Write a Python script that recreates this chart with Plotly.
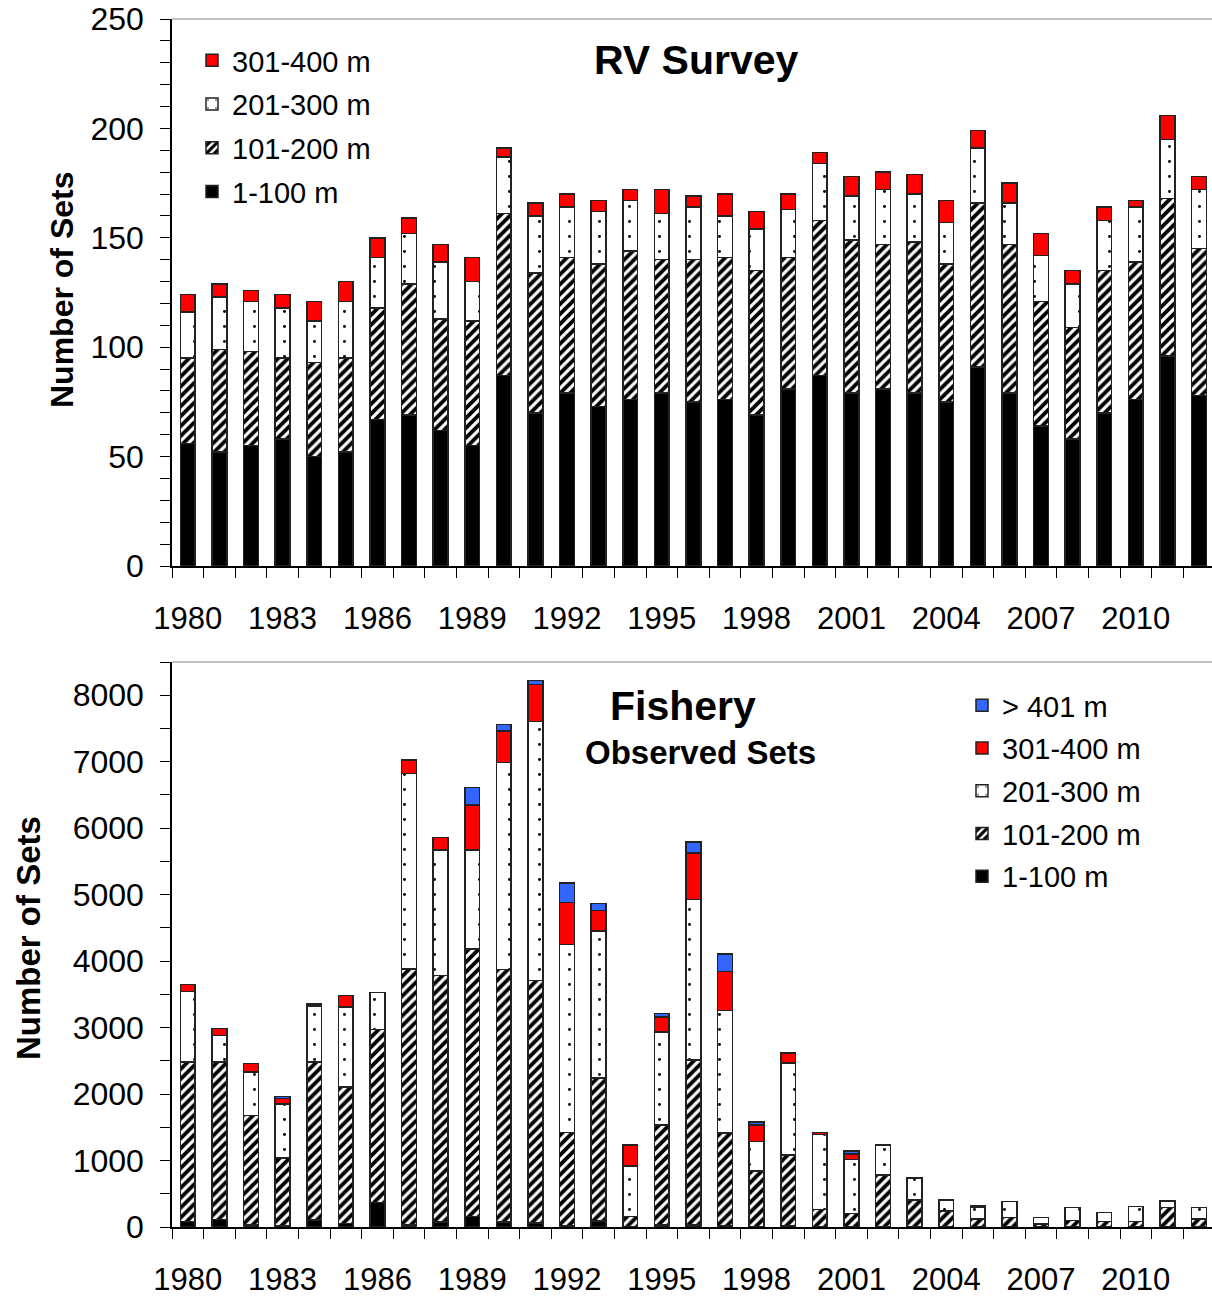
import plotly.graph_objects as go

# ---- data ---------------------------------------------------------------
years = list(range(1980, 2013))
tick_years = list(range(1980, 2011, 3))

# RV Survey: number of sets by depth stratum
rv_1_100 = [56, 52, 55, 58, 50, 52, 67, 69, 62, 55, 87, 70, 79, 73, 76, 79, 75,
            76, 69, 81, 87, 79, 81, 79, 75, 91, 79, 64, 58, 70, 76, 96, 78]
rv_101_200 = [39, 47, 43, 37, 43, 43, 51, 60, 51, 57, 74, 64, 62, 65, 68, 61, 65,
              65, 66, 60, 71, 70, 66, 69, 63, 75, 68, 57, 51, 65, 63, 72, 67]
rv_201_300 = [21, 24, 23, 23, 19, 26, 23, 23, 26, 18, 26, 26, 23, 24, 23, 21, 24,
              19, 19, 22, 26, 20, 25, 22, 19, 25, 19, 21, 20, 23, 25, 27, 27]
rv_301_400 = [8, 6, 5, 6, 9, 9, 9, 7, 8, 11, 4, 6, 6, 5, 5, 11, 5,
              10, 8, 7, 5, 9, 8, 9, 10, 8, 9, 10, 6, 6, 3, 11, 6]

# Fishery observed sets by depth stratum
fo_1_100 = [80, 115, 30, 20, 105, 55, 365, 30, 75, 155, 75, 60, 20, 90, 0, 30, 30,
            20, 10, 20, 0, 0, 0, 0, 0, 0, 0, 0, 0, 0, 0, 0, 0]
fo_101_200 = [2400, 2365, 1650, 1020, 2375, 2050, 2605, 3850, 3705, 4025, 3800, 3645,
              1400, 2150, 160, 1505, 2480, 1395, 830, 1060, 265, 200, 785, 405, 240,
              120, 145, 45, 95, 80, 80, 290, 120]
fo_201_300 = [1065, 400, 650, 810, 845, 1205, 555, 2940, 1890, 1490, 3110, 3900,
              2830, 2215, 755, 1400, 2420, 1845, 445, 1390, 1125, 815, 445, 330, 165,
              180, 240, 100, 195, 140, 230, 90, 170]
fo_301_400 = [105, 105, 130, 80, 30, 175, 0, 205, 190, 680, 475, 560, 630, 310, 315,
              225, 695, 585, 250, 150, 30, 80, 0, 0, 0, 15, 0, 0, 0, 0, 0, 20, 0]
fo_401_plus = [0, 0, 0, 35, 0, 0, 0, 0, 0, 260, 100, 60, 295, 105, 0, 50, 165, 260,
               45, 0, 0, 45, 0, 0, 0, 0, 0, 0, 0, 0, 0, 0, 0]

labels = ["1-100 m", "101-200 m", "201-300 m", "301-400 m", "> 401 m"]

# ---- styling ------------------------------------------------------------
FONT = "Liberation Sans, Arial, sans-serif"
W, H = 1212, 1298
OUTLINE = dict(color="#222222", width=1.5)

styles = {
    "1-100 m": dict(color="#000000"),
    "101-200 m": dict(color="#ffffff",
                      pattern=dict(shape="/", fgcolor="#000000", bgcolor="#ffffff",
                                   size=7, solidity=0.55, fillmode="replace")),
    "201-300 m": dict(color="#ffffff",
                      pattern=dict(shape=".", fgcolor="#000000", bgcolor="#ffffff",
                                   size=15, solidity=0.03, fillmode="replace")),
    "301-400 m": dict(color="#ff0000"),
    "> 401 m": dict(color="#3366ff"),
}

fig = go.Figure()

top_series = [rv_1_100, rv_101_200, rv_201_300, rv_301_400]
bot_series = [fo_1_100, fo_101_200, fo_201_300, fo_301_400, fo_401_plus]

# deepest stratum listed first in each legend
for i, vals in enumerate(top_series):
    name = labels[i]
    fig.add_trace(go.Bar(
        x=years, y=vals, name=name, xaxis="x", yaxis="y",
        marker=dict(line=OUTLINE, **styles[name]),
        legend="legend", legendgroup="rv%d" % i, legendrank=100 - i, width=0.47,
    ))

for i, vals in enumerate(bot_series):
    name = labels[i]
    fig.add_trace(go.Bar(
        x=years, y=vals, name=name, xaxis="x2", yaxis="y2",
        marker=dict(line=OUTLINE, **styles[name]),
        legend="legend2", legendgroup="fo%d" % i, legendrank=100 - i, width=0.47,
    ))

# pixel helpers for paper coordinates
def px(x):
    return x / W

def py(y):
    return 1 - y / H

x_dom = [px(172), 1.0]
x_range = [1979.5, 1979.5 + (W - 172) / 31.6]

common_x = dict(
    range=x_range, domain=x_dom, showgrid=False, zeroline=False, automargin=False,
    showline=True, linecolor="#000000", linewidth=1.5,
    tickvals=tick_years, ticktext=[str(y) for y in tick_years],
    ticks="", ticklabelstandoff=24,
    tickfont=dict(family=FONT, size=31, color="#000000"),
    minor=dict(ticks="outside", tick0=1979.5, dtick=1, ticklen=10,
               tickcolor="#000000", tickwidth=1.2),
)

common_y = dict(
    showgrid=False, zeroline=False, showline=True, linecolor="#000000",
    automargin=False,
    linewidth=1.5, ticks="outside", ticklen=10, tickcolor="#000000", tickwidth=1.2,
    ticklabelstandoff=10,
    tickfont=dict(family=FONT, size=32, color="#000000"),
)

fig.update_layout(
    width=W, height=H, margin=dict(l=0, r=0, t=0, b=0, autoexpand=False),
    paper_bgcolor="#ffffff", plot_bgcolor="#ffffff",
    barmode="stack",
    font=dict(family=FONT, color="#000000"),
    xaxis=dict(anchor="y", **common_x),
    xaxis2=dict(anchor="y2", **common_x),
    yaxis=dict(domain=[py(566), py(19)], range=[0, 250], dtick=50, anchor="x",
               minor=dict(dtick=10, ticks="outside", ticklen=10,
                          tickcolor="#000000", tickwidth=1.2),
               **common_y),
    yaxis2=dict(domain=[py(1227), py(662)], range=[0, 8500], dtick=1000, anchor="x2",
                minor=dict(dtick=500, ticks="outside", ticklen=10,
                           tickcolor="#000000", tickwidth=1.2),
                **common_y),
    legend=dict(x=px(192), y=py(35), xanchor="left", yanchor="top",
                traceorder="grouped", tracegroupgap=3,
                font=dict(family=FONT, size=29, color="#000000"),
                bgcolor="rgba(0,0,0,0)", itemclick=False),
    legend2=dict(x=px(962), y=py(680), xanchor="left", yanchor="top",
                 traceorder="grouped", tracegroupgap=2,
                 font=dict(family=FONT, size=29, color="#000000"),
                 bgcolor="rgba(0,0,0,0)", itemclick=False),
)

# grey frame line along the top of each panel
for ytop in (19, 662):
    fig.add_shape(type="line", xref="paper", yref="paper",
                  x0=px(172), x1=1.0, y0=py(ytop), y1=py(ytop),
                  line=dict(color="#888888", width=1.2))

# panel titles and axis titles
def note(text, x, y, size, angle=0):
    fig.add_annotation(text=text, xref="paper", yref="paper", x=px(x), y=py(y),
                       xanchor="center", yanchor="middle", showarrow=False,
                       textangle=angle,
                       font=dict(family=FONT, size=size, color="#000000",
                                 weight="bold"))

note("RV Survey", 696, 60, 41)
note("Fishery", 683, 706, 41)
note("Observed Sets", 700, 752, 33)
note("Number of Sets", 62, 290, 32, angle=-90)
note("Number of Sets", 28, 938, 33, angle=-90)

fig.write_html("out.html")
